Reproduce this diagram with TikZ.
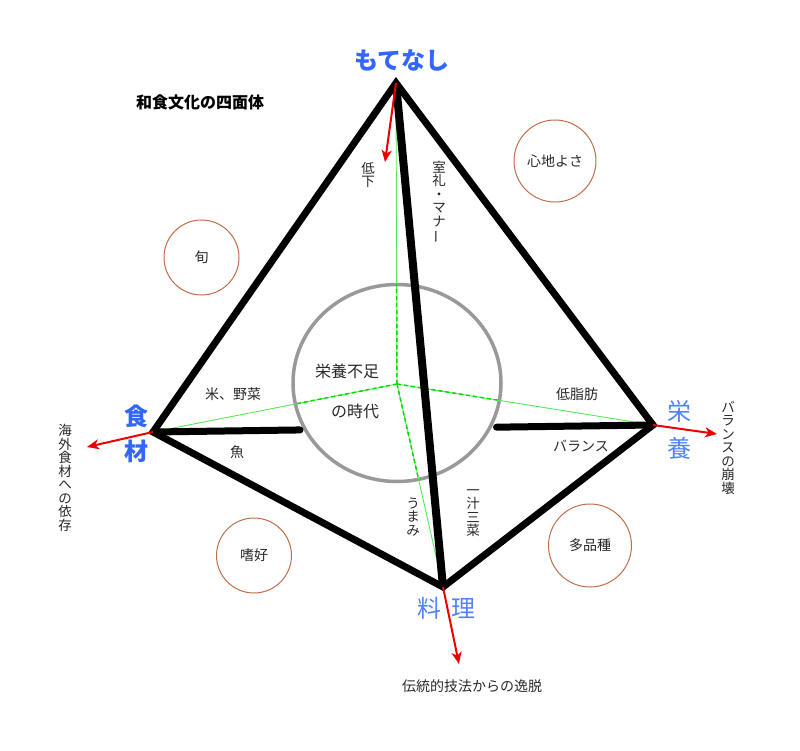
\documentclass[tikz,border=0pt]{standalone}
\usepackage{fontspec}
\usepackage{graphicx}
\setmainfont{Noto Sans CJK JP}
\usetikzlibrary{arrows.meta,shapes.geometric,calc}
\definecolor{lblue}{RGB}{51,102,255}
\definecolor{lblueb}{RGB}{80,130,255}
\definecolor{cbrown}{RGB}{190,110,75}
\definecolor{gline}{RGB}{90,230,90}
\definecolor{gdash}{RGB}{0,220,0}
\definecolor{txt}{RGB}{40,40,40}
\definecolor{ared}{RGB}{235,0,0}
\tikzset{
  edgeline/.style={line width=7pt, black, line join=miter},
  halfline/.style={line width=7pt, black, line cap=round},
  greenline/.style={gline, line width=0.9pt},
  greendash/.style={gdash, line width=1.5pt, dash pattern=on 4pt off 3pt},
  redarrow/.style={ared, line width=2pt, -{Stealth[length=12pt,width=10pt,inset=3.5pt]}},
  smallcirc/.style={circle, draw=cbrown, line width=1pt, inner sep=0pt, text=txt, font=\fontsize{14}{14}\selectfont},
  lbl/.style={inner sep=0pt, text=txt, font=\fontsize{14}{14}\selectfont},
  midlbl/.style={inner sep=0pt, text=txt, font=\fontsize{16}{16}\selectfont},
  vlbl/.style={inner sep=0pt, text=txt, align=center, font=\fontsize{13.5}{13.5}\selectfont},
  biglbl/.style={inner sep=0pt, text=lblue, font=\fontsize{24}{24}\selectfont\bfseries},
  biglbll/.style={inner sep=0pt, text=lblueb, font=\fontsize{24}{24}\selectfont},
}
\begin{document}
\begin{tikzpicture}[x=1pt,y=-1pt]
\useasboundingbox (0,0) rectangle (800,751);
% vertices
\coordinate (T) at (396,83);
\coordinate (L) at (153,432);
\coordinate (R) at (653,425);
\coordinate (B) at (443,587);
\coordinate (C) at (397,384);
% arrow ends
\coordinate (Ta) at (385,162);
\coordinate (La) at (87,447);
\coordinate (Ra) at (717,434);
\coordinate (Ba) at (459,664);
% big circle
\node[ellipse, draw=gray!80, line width=3.5pt, minimum width=208pt, minimum height=197pt, inner sep=0pt] (bigc) at (397,383) {};
% green hidden edges
\draw[greenline] (T) -- (C);
\draw[greenline] (L) -- (C);
\draw[greenline] (R) -- (C);
\draw[greenline] (B) -- (C);
\begin{scope}
\clip (397,383) ellipse [x radius=104, y radius=99];
\draw[greendash] (C) -- (T);
\draw[greendash] (C) -- (L);
\draw[greendash] (C) -- (R);
\draw[greendash] (C) -- (B);
\end{scope}
% small circles
\node[smallcirc, minimum size=82pt] (kokochi) at (555,161) {心地よさ};
\node[smallcirc, minimum size=75pt] (shun) at (201.5,257.5) {旬};
\node[smallcirc, minimum size=75pt] (shiko) at (254,555.5) {嗜好};
\node[smallcirc, minimum size=83pt] (tahin) at (590,545.5) {多品種};
% thick edges
\draw[edgeline] (T) -- (L) -- (B) -- (R) -- cycle;
\draw[line width=8pt, black] (T) -- (B);
\draw[halfline] (L) -- ($(L)!0.294!(R)$);
\draw[halfline] ($(L)!0.687!(R)$) -- (R);
% red arrows
\draw[redarrow] (T) -- (Ta);
\draw[redarrow] (L) -- (La);
\draw[redarrow] (R) -- (Ra);
\draw[redarrow] (B) -- (Ba);
% big labels
\node[biglbl] (motenashi) at (402,60) {もてなし};
\node[biglbl, align=center, font=\fontsize{24}{35}\selectfont\bfseries] (shokuzai) at (136,434) {食\\材};
\node[biglbll, align=center, font=\fontsize{24}{37}\selectfont] (eiyo) at (679,430) {栄\\養};
\node[biglbll] (ryori) at (446.5,608) {料\hspace{11pt}理};
% title
\node[inner sep=0pt, font=\fontsize{16}{16}\selectfont\bfseries] (title) at (200,102) {和食文化の四面体};
% edge labels
\node[vlbl] (teika) at (368,175) {低\\下};
\node[vlbl] (shitsurai) at (439,202) {室\\礼\\・\\マ\\ナ\\\rotatebox[origin=c]{90}{ー}};
\node[lbl] (kome) at (233,394) {米、野菜};
\node[lbl] (sakana) at (237,452) {魚};
\node[vlbl] (kaigai) at (65,478) {海\\外\\食\\材\\へ\\の\\依\\存};
\node[midlbl] (eiyobusoku) at (347,371) {栄養不足};
\node[midlbl] (jidai) at (355,411) {の時代};
\node[lbl] (teishibo) at (577,394) {低脂肪};
\node[lbl] (balance) at (581,446) {バランス};
\node[vlbl] (houkai) at (728,448) {バ\\ラ\\ン\\ス\\の\\崩\\壊};
\node[vlbl] (umami) at (413,517) {う\\ま\\み};
\node[vlbl] (ichiju) at (473,513) {一\\汁\\三\\菜};
\node[lbl] (dento) at (472,686) {伝統的技法からの逸脱};
\end{tikzpicture}
\end{document}
